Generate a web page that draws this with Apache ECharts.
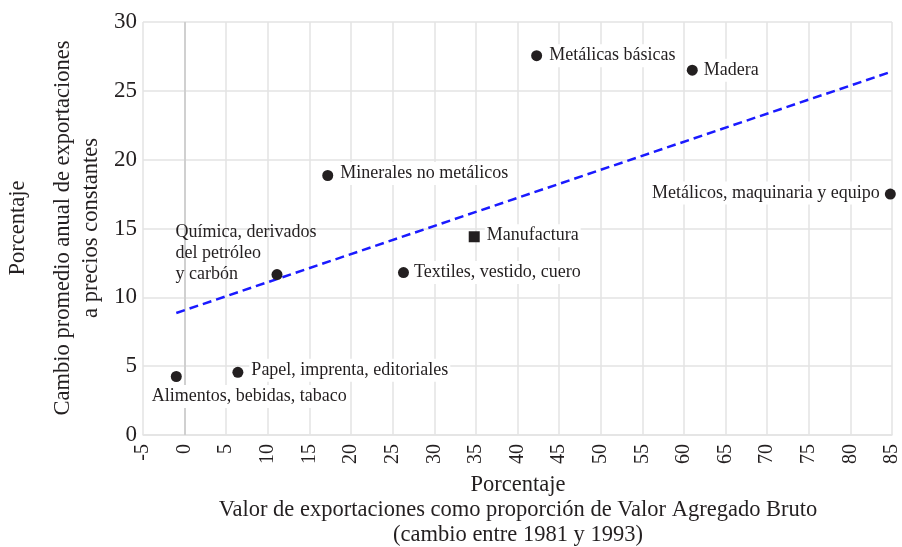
<!DOCTYPE html>
<html>
<head>
<meta charset="utf-8">
<script src="https://cdn.jsdelivr.net/npm/echarts@6/dist/echarts.min.js"></script>
<style>
  html, body { margin: 0; padding: 0; background: #fff; }
  #chart { width: 902px; height: 547px; }
</style>
</head>
<body>
<div id="chart"></div>
<script>
// sectores (puntos)
const sectorNames = [
  "Alimentos, bebidas, tabaco",
  "Papel, imprenta, editoriales",
  "Química, derivados\ndel petróleo\ny carbón",
  "Minerales no metálicos",
  "Textiles, vestido, cuero",
  "Metálicas básicas",
  "Madera",
  "Metálicos, maquinaria y equipo"
];
const sectorX = [-1, 6.4, 11.1, 17.2, 26.3, 42.3, 61.0, 84.8];
const sectorY = [4.25, 4.55, 11.65, 18.85, 11.8, 27.55, 26.5, 17.5];

const manufName = "Manufactura";
const manufX = 34.8;
const manufY = 14.4;

// recta de tendencia
const trendX = [-1, 84.5];
const trendY = [8.86, 26.3];

const xTicks = { min: -5, max: 85, interval: 5 };
const yTicks = { min: 0, max: 30, interval: 5 };

const FONT = '"Liberation Serif", "DejaVu Serif", serif';
const INK = "#231f20";

// ajustes de etiqueta por punto
const labelCfg = [
  { position: "right", offset: [-37, 20] },
  { position: "right", offset: [1, -2] },
  { position: "right", offset: [-114, -21], bg: "transparent" },
  { position: "right", offset: [0, -2] },
  { position: "right", offset: [-2, 0] },
  { position: "right", offset: [0, 0] },
  { position: "right", offset: [-1, 0] },
  { position: "left", offset: [2, -1] }
];

const chart = echarts.init(document.getElementById("chart"));

const pointData = sectorNames.map((n, i) => ({
  name: n,
  value: [sectorX[i], sectorY[i]],
  label: {
    show: true,
    position: labelCfg[i].position,
    offset: labelCfg[i].offset,
    backgroundColor: labelCfg[i].bg || "#fff",
    formatter: "{b}"
  }
}));

const labelStyle = {
  fontFamily: FONT,
  fontSize: 18,
  color: INK,
  backgroundColor: "#fff",
  lineHeight: 21,
  padding: [1, 2]
};

chart.setOption({
  animation: false,
  textStyle: { fontFamily: FONT },
  grid: { left: 143, right: 9, top: 22, bottom: 112 },
  xAxis: {
    type: "value",
    min: xTicks.min,
    max: xTicks.max,
    interval: xTicks.interval,
    axisLine: { show: true, lineStyle: { color: "#e3e3e3", width: 1.5 } },
    axisTick: { show: false },
    axisLabel: {
      rotate: 90,
      fontFamily: FONT,
      fontSize: 20,
      color: INK,
      margin: 9
    },
    splitLine: { show: true, lineStyle: { color: "#e3e3e3", width: 1.5 } }
  },
  yAxis: {
    type: "value",
    min: yTicks.min,
    max: yTicks.max,
    interval: yTicks.interval,
    axisLine: { show: true, lineStyle: { color: "#e3e3e3", width: 1.5 } },
    axisTick: { show: false },
    axisLabel: {
      fontFamily: FONT,
      fontSize: 23,
      color: INK,
      margin: 6
    },
    splitLine: { show: true, lineStyle: { color: "#e3e3e3", width: 1.5 } }
  },
  series: [
    {
      type: "line",
      data: trendX.map((x, i) => [x, trendY[i]]),
      symbol: "none",
      lineStyle: { color: "#1a1aff", width: 2.5, type: [9, 5] },
      z: 3,
      markLine: {
        silent: true,
        symbol: "none",
        label: { show: false },
        lineStyle: { color: "#c8c8c8", width: 1.5, type: "solid" },
        data: [{ xAxis: 0 }],
        z: 1
      }
    },
    {
      type: "scatter",
      data: pointData,
      symbol: "circle",
      symbolSize: 11,
      itemStyle: { color: INK, opacity: 1 },
      label: labelStyle,
      z: 4
    },
    {
      type: "scatter",
      data: [{ name: manufName, value: [manufX, manufY] }],
      symbol: "rect",
      symbolSize: 11,
      itemStyle: { color: INK, opacity: 1 },
      label: Object.assign({}, labelStyle, {
        show: true,
        position: "right",
        offset: [0, -1],
        formatter: "{b}"
      }),
      z: 4
    }
  ],
  graphic: [
    {
      type: "text",
      x: 518,
      y: 473,
      style: {
        text: "Porcentaje\nValor de exportaciones como proporción de Valor Agregado Bruto\n(cambio entre 1981 y 1993)",
        font: '22.5px ' + FONT,
        fill: INK,
        align: "center",
        verticalAlign: "top",
        lineHeight: 25
      }
    },
    {
      type: "text",
      x: 7,
      y: 228,
      rotation: Math.PI / 2,
      style: {
        text: "Porcentaje",
        font: '22.5px ' + FONT,
        fill: INK,
        align: "center",
        verticalAlign: "top"
      }
    },
    {
      type: "text",
      x: 49,
      y: 228,
      rotation: Math.PI / 2,
      style: {
        text: "Cambio promedio anual de exportaciones\na precios constantes",
        font: '22.5px ' + FONT,
        fill: INK,
        align: "center",
        verticalAlign: "top",
        lineHeight: 28
      }
    }
  ]
});
</script>
</body>
</html>
